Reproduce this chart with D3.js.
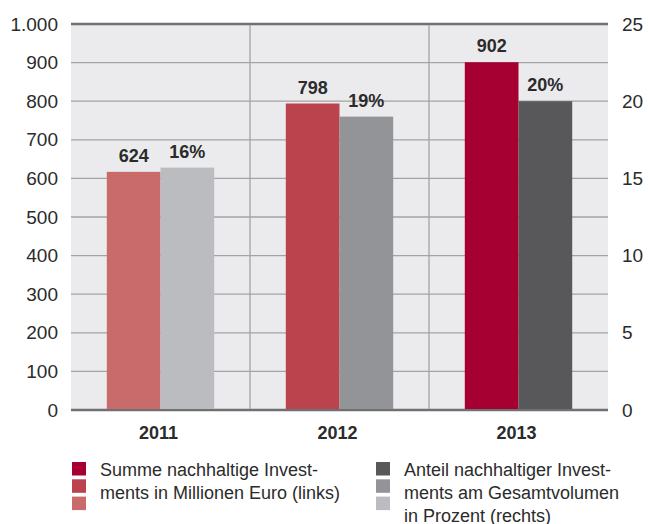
<!DOCTYPE html>
<meta charset="utf-8">
<script src="https://d3js.org/d3.v7.min.js"></script>
<style>
  body { margin: 0; background: #fff; }
  text { font-family: "Liberation Sans", Arial, sans-serif; fill: #2b2b2b; }
</style>
<svg id="vis"></svg>
<script>
    // data
    var years = ["2011", "2012", "2013"];
    var summe = [617, 794, 901];            // Millionen Euro (links)
    var summeLabels = ["624", "798", "902"];
    var anteil = [15.7, 19, 20];            // Prozent (rechts)
    var anteilLabels = ["16%", "19%", "20%"];
    var leftTicks = [0, 100, 200, 300, 400, 500, 600, 700, 800, 900, 1000];
    var rightTicks = [0, 5, 10, 15, 20, 25];
    var redColors = ["#c96b6b", "#bb434d", "#a60033"];
    var grayColors = ["#bbbcc0", "#939497", "#58585a"];
    var legendLeft = ["Summe nachhaltige Invest-", "ments in Millionen Euro (links)"];
    var legendRight = ["Anteil nachhaltiger Invest-", "ments am Gesamtvolumen", "in Prozent (rechts)"];

    var W = 648, H = 524;
    var margin = {top: 24, right: 40, bottom: 114, left: 71},
        width = W - margin.left - margin.right,
        height = H - margin.top - margin.bottom;

    var de = d3.formatLocale({decimal: ",", thousands: ".", grouping: [3], currency: ["", " €"]});

    var svg = d3.select("#vis")
        .attr("width", W)
        .attr("height", H)
        .append("g")
            .attr("transform", "translate(" + margin.left + "," + margin.top + ")");

    var x = d3.scaleBand().domain(years).range([0, width]);
    var y = d3.scaleLinear().domain([0, 1000]).range([height, 0]);
    var y2 = d3.scaleLinear().domain([0, 25]).range([height, 0]);
    var bw = x.bandwidth() * 0.3;

    // plot background
    svg.append("rect")
        .attr("width", width)
        .attr("height", height)
        .attr("fill", "#ebebee");

    // horizontal grid
    svg.append("g")
        .selectAll("line")
        .data(leftTicks)
        .enter()
        .append("line")
            .attr("x1", 0)
            .attr("x2", width)
            .attr("y1", function(d) { return y(d); })
            .attr("y2", function(d) { return y(d); })
            .attr("stroke", function(d) { return (d == 0 || d == 1000) ? "#707072" : "#a3a3a5"; })
            .attr("stroke-width", function(d) { return (d == 0 || d == 1000) ? 2.5 : 1.3; });

    // vertical separators between the years
    svg.append("g")
        .selectAll("line")
        .data(years.slice(1))
        .enter()
        .append("line")
            .attr("x1", function(d) { return x(d); })
            .attr("x2", function(d) { return x(d); })
            .attr("y1", 1)
            .attr("y2", height - 1)
            .attr("stroke", "#a3a3a5")
            .attr("stroke-width", 1.3);

    // bars
    var groups = svg.append("g")
        .selectAll("g")
        .data(years)
        .enter()
        .append("g");

    groups.append("rect")
        .attr("x", function(d) { return x(d) + x.bandwidth() / 2 - bw; })
        .attr("y", function(d, i) { return y(summe[i]); })
        .attr("width", bw)
        .attr("height", function(d, i) { return height - y(summe[i]) - 1; })
        .attr("fill", function(d, i) { return redColors[i]; });

    groups.append("rect")
        .attr("x", function(d) { return x(d) + x.bandwidth() / 2; })
        .attr("y", function(d, i) { return y2(anteil[i]); })
        .attr("width", bw)
        .attr("height", function(d, i) { return height - y2(anteil[i]) - 1; })
        .attr("fill", function(d, i) { return grayColors[i]; });

    // value labels
    groups.append("text")
        .attr("x", function(d) { return x(d) + x.bandwidth() / 2 - bw / 2; })
        .attr("y", function(d, i) { return y(summe[i]) - 10; })
        .attr("text-anchor", "middle")
        .style("font-size", "18px")
        .style("font-weight", "bold")
        .text(function(d, i) { return summeLabels[i]; });

    groups.append("text")
        .attr("x", function(d) { return x(d) + x.bandwidth() / 2 + bw / 2; })
        .attr("y", function(d, i) { return y2(anteil[i]) - 10; })
        .attr("text-anchor", "middle")
        .style("font-size", "18px")
        .style("font-weight", "bold")
        .text(function(d, i) { return anteilLabels[i]; });

    // left axis
    var axL = svg.append("g")
        .call(d3.axisLeft(y).tickValues(leftTicks).tickSize(0).tickPadding(13).tickFormat(de.format(",d")));
    axL.select(".domain").remove();
    axL.selectAll("text").style("font-size", "19px").attr("fill", "#2b2b2b");

    // right axis
    var axR = svg.append("g")
        .attr("transform", "translate(" + width + ",0)")
        .call(d3.axisRight(y2).tickValues(rightTicks).tickSize(0).tickPadding(14));
    axR.select(".domain").remove();
    axR.selectAll("text").style("font-size", "19px").attr("fill", "#2b2b2b");

    // x axis labels
    svg.append("g")
        .selectAll("text")
        .data(years)
        .enter()
        .append("text")
            .attr("x", function(d) { return x(d) + x.bandwidth() / 2 - 2; })
            .attr("y", height + 29)
            .attr("text-anchor", "middle")
            .style("font-size", "18px")
            .style("font-weight", "bold")
            .text(function(d) { return d; });

    // legend
    var legend = d3.select("#vis").append("g");

    function legendBlock(x0, colors, lines) {
        legend.append("g")
            .selectAll("rect")
            .data(colors.slice().reverse())
            .enter()
            .append("rect")
                .attr("x", x0)
                .attr("y", function(d, i) { return 462 + i * 17.3; })
                .attr("width", 14)
                .attr("height", 13.5)
                .attr("fill", function(d) { return d; });

        legend.append("g")
            .selectAll("text")
            .data(lines)
            .enter()
            .append("text")
                .attr("x", x0 + 28)
                .attr("y", function(d, i) { return 475.5 + i * 23; })
                .style("font-size", "18px")
                .text(function(d) { return d; });
    }

    legendBlock(72, redColors, legendLeft);
    legendBlock(376, grayColors, legendRight);
</script>
